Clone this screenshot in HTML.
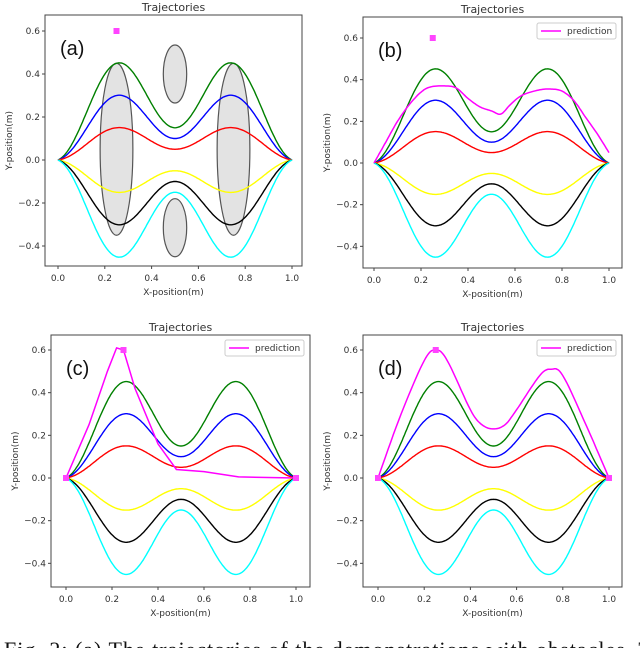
<!DOCTYPE html>
<html><head><meta charset="utf-8">
<style>
html,body{margin:0;padding:0;background:#fff;width:640px;height:648px;overflow:hidden;position:relative}
svg text{font-family:"DejaVu Sans","Liberation Sans",sans-serif;fill:#333}
.capw{position:absolute;left:0;top:0;width:640px;height:648px;overflow:hidden}
.cap{position:absolute;left:4px;top:637px;font-family:"Liberation Serif",serif;font-size:22px;color:#111;white-space:nowrap;letter-spacing:1px}
</style></head><body>
<svg id="s" width="640" height="648" xmlns="http://www.w3.org/2000/svg" style="position:absolute;left:0;top:0"></svg>
<div class="capw"><div class="cap">Fig. 2: (a) The trajectories of the demonstrations with obstacles. The</div></div>
<script>
const S=document.getElementById('s');let h='';
const panels=[
 {L:45,R:302,T:15,B:266,x0:58,x1:292,y06:31,y0:160,lab:'(a)',pred:null,ell:true,leg:null},
 {L:363,R:622,T:17,B:268,x0:374,x1:609,y06:38,y0:163,lab:'(b)',leg:[537,23],
  pred:[[0,0],[0.05,0.1],[0.1,0.2],[0.15,0.28],[0.2,0.34],[0.24,0.365],[0.3,0.37],[0.35,0.36],[0.4,0.31],[0.45,0.27],[0.5,0.25],[0.54,0.235],[0.58,0.28],[0.63,0.325],[0.7,0.35],[0.75,0.355],[0.8,0.345],[0.85,0.3],[0.9,0.22],[0.95,0.14],[1.0,0.05]],smooth:true,mark:true},
 {L:51,R:310,T:335,B:587,x0:66,x1:296,y06:350,y0:478,lab:'(c)',leg:[225,340],
  pred:[[0,0],[0.1,0.25],[0.18,0.5],[0.22,0.61],[0.25,0.6],[0.3,0.42],[0.4,0.16],[0.48,0.04],[0.6,0.03],[0.75,0.005],[1,0]],smooth:false,mark2:true},
 {L:363,R:622,T:335,B:587,x0:378,x1:609,y06:350,y0:478,lab:'(d)',leg:[537,340],
  pred:[[0,0],[0.1,0.3],[0.2,0.55],[0.25,0.6],[0.3,0.55],[0.4,0.32],[0.45,0.25],[0.5,0.23],[0.55,0.25],[0.6,0.32],[0.7,0.48],[0.75,0.51],[0.8,0.48],[0.9,0.25],[1,0]],smooth:true,mark2:true}
];
const curves=[['green',0.45,0.15],['blue',0.3,0.1],['red',0.15,0.05],['yellow',-0.15,-0.05],['black',-0.3,-0.1],['cyan',-0.45,-0.15]];
function f(x,hh,m){return m*Math.sin(Math.PI*x)+(hh-m*Math.SQRT1_2)*Math.pow(Math.sin(2*Math.PI*x),2);}
function cr(pts){let out=[];for(let i=0;i<pts.length-1;i++){const p0=pts[Math.max(0,i-1)],p1=pts[i],p2=pts[i+1],p3=pts[Math.min(pts.length-1,i+2)];for(let t=0;t<1;t+=0.1){const t2=t*t,t3=t2*t;const c=k=>0.5*((2*p1[k])+(-p0[k]+p2[k])*t+(2*p0[k]-5*p1[k]+4*p2[k]-p3[k])*t2+(-p0[k]+3*p1[k]-3*p2[k]+p3[k])*t3);out.push([c(0),c(1)]);}}out.push(pts[pts.length-1]);return out;}
for(const p of panels){
 const sx=x=>p.x0+(p.x1-p.x0)*x, ky=(p.y0-p.y06)/0.6, sy=y=>p.y0-ky*y;
 h+=`<rect x="${p.L}" y="${p.T}" width="${p.R-p.L}" height="${p.B-p.T}" fill="#fff"/>`;
 if(p.ell){
  for(const [cx,cy,rx,ry] of [[0.25,0.05,0.07,0.4],[0.75,0.05,0.07,0.4],[0.5,0.4,0.05,0.135],[0.5,-0.315,0.05,0.135]])
   h+=`<ellipse cx="${sx(cx)}" cy="${sy(cy)}" rx="${(p.x1-p.x0)*rx}" ry="${ky*ry}" fill="#e3e3e3" stroke="#555" stroke-width="1.2"/>`;
 }
 for(const [c,hh,m] of curves){let d='';for(let i=0;i<=200;i++){const x=i/200;d+=(i?'L':'M')+sx(x).toFixed(1)+','+sy(f(x,hh,m)).toFixed(1);}
  h+=`<path d="${d}" fill="none" stroke="${c}" stroke-width="1.4"/>`;}
 if(p.pred){const pts=p.smooth?cr(p.pred):p.pred;const d=pts.map((q,i)=>(i?'L':'M')+sx(q[0]).toFixed(1)+','+sy(q[1]).toFixed(1)).join('');
  h+=`<path d="${d}" fill="none" stroke="#ff00ff" stroke-width="1.5"/>`;
  if(p.mark2){for(const q of [[0,0],[0.25,0.6],[1,0]])h+=`<rect x="${sx(q[0])-3}" y="${sy(q[1])-3}" width="6" height="6" fill="#ff44ff"/>`;}
 }
 if(p.ell||p.mark){h+=`<rect x="${sx(0.25)-3}" y="${sy(0.6)-3}" width="6" height="6" fill="#ff44ff"/>`;}
 h+=`<rect x="${p.L}" y="${p.T}" width="${p.R-p.L}" height="${p.B-p.T}" fill="none" stroke="#444" stroke-width="1"/>`;
 for(let i=0;i<=5;i++){const x=sx(i*0.2);h+=`<line x1="${x}" y1="${p.B}" x2="${x}" y2="${p.B+3}" stroke="#444"/><text x="${x}" y="${p.B+15}" font-size="9" text-anchor="middle">${(i*0.2).toFixed(1)}</text>`;}
 for(let v=-0.4;v<=0.61;v+=0.2){const y=sy(v);const t=(Math.abs(v)<1e-9?0:v).toFixed(1).replace('-','\u2212');h+=`<line x1="${p.L-3}" y1="${y}" x2="${p.L}" y2="${y}" stroke="#444"/><text x="${p.L-5}" y="${y+3}" font-size="9" text-anchor="end">${t}</text>`;}
 const mx=(p.L+p.R)/2,my=(p.T+p.B)/2;
 h+=`<text x="${mx}" y="${p.T-4}" font-size="11" text-anchor="middle">Trajectories</text>`;
 h+=`<text x="${mx}" y="${p.B+29}" font-size="9" text-anchor="middle">X-position(m)</text>`;
 h+=`<text transform="translate(${p.L-33},${my}) rotate(-90)" font-size="9" text-anchor="middle">Y-position(m)</text>`;
 h+=`<text x="${p.L+15}" y="${p.T+40}" font-size="20" style="fill:#111;font-family:'Liberation Sans',sans-serif">${p.lab}</text>`;
 if(p.leg){const [lx,ly]=p.leg;h+=`<rect x="${lx}" y="${ly}" width="79" height="16" fill="#fff" stroke="#ccc" rx="2"/><line x1="${lx+4}" y1="${ly+8}" x2="${lx+24}" y2="${ly+8}" stroke="#ff00ff" stroke-width="1.5"/><text x="${lx+30}" y="${ly+11}" font-size="9">prediction</text>`;}
}
S.innerHTML=h;
</script>
</body></html>
